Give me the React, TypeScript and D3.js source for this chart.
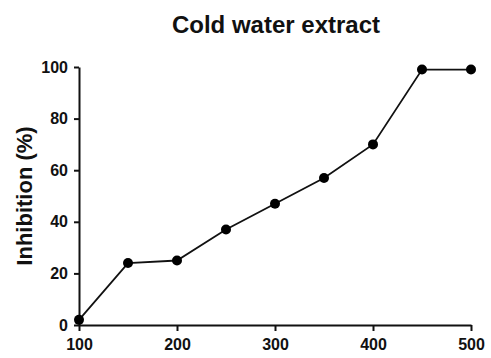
import { useEffect, useRef } from 'react';
import * as d3 from 'd3';

const concentrations = [100, 150, 200, 250, 300, 350, 400, 450, 500];
const inhibition = [2, 24, 25, 37, 47, 57, 70, 99, 99];
const xTicks = [100, 200, 300, 400, 500];
const yTicks = [0, 20, 40, 60, 80, 100];

export default function App() {
  const svgRef = useRef<SVGSVGElement>(null);

  useEffect(() => {
    if (!svgRef.current) return;
    const width = 491;
    const height = 358;
    const margin = { top: 67, right: 20, bottom: 33, left: 79 };

    const svg = d3.select(svgRef.current);
    svg.selectAll('*').remove();
    svg.attr('width', width).attr('height', height);

    const x = d3.scaleLinear().domain([100, 500]).range([margin.left, 471]);
    const y = d3.scaleLinear().domain([0, 100]).range([height - margin.bottom, margin.top]);

    const font = '"Liberation Sans", Arial, sans-serif';

    // Title
    svg.append('text')
      .attr('x', 276)
      .attr('y', 33)
      .attr('text-anchor', 'middle')
      .attr('font-family', font)
      .attr('font-size', '24px')
      .attr('font-weight', '700')
      .attr('fill', '#111')
      .text('Cold water extract');

    // Y label
    svg.append('text')
      .attr('transform', `translate(32,${y(50)}) rotate(-90)`)
      .attr('text-anchor', 'middle')
      .attr('font-family', font)
      .attr('font-size', '22px')
      .attr('font-weight', '700')
      .attr('fill', '#111')
      .text('Inhibition (%)');

    // Axes
    const xAxis = svg.append('g')
      .attr('transform', `translate(0,${y(0)})`)
      .call(d3.axisBottom(x).tickValues(xTicks).tickSize(6).tickSizeOuter(0).tickFormat(d3.format('d')));
    const yAxis = svg.append('g')
      .attr('transform', `translate(${x(100)},0)`)
      .call(d3.axisLeft(y).tickValues(yTicks).tickSize(5).tickSizeOuter(0).tickFormat(d3.format('d')));

    [xAxis, yAxis].forEach(ax => {
      ax.select('.domain').attr('stroke', '#111').attr('stroke-width', 2);
      ax.selectAll('.tick line').attr('stroke', '#111').attr('stroke-width', 2);
      ax.selectAll('.tick text')
        .attr('fill', '#111')
        .attr('font-family', font)
        .attr('font-size', '16px')
        .attr('font-weight', '700');
    });
    xAxis.selectAll('.tick text').attr('y', 14);
    yAxis.selectAll('.tick text').attr('x', -11);

    const points = concentrations.map((c, i) => [c, inhibition[i]] as [number, number]);

    // Line
    svg.append('path')
      .datum(points)
      .attr('fill', 'none')
      .attr('stroke', '#111')
      .attr('stroke-width', 1.8)
      .attr('d', d3.line<[number, number]>().x(d => x(d[0])).y(d => y(d[1])));

    // Points
    svg.selectAll('.pt')
      .data(points)
      .join('circle')
      .attr('class', 'pt')
      .attr('cx', d => x(d[0]))
      .attr('cy', d => y(d[1]))
      .attr('r', 5)
      .attr('fill', '#000');
  }, []);

  return (
    <div style={{ position: 'fixed', left: 0, top: 0, background: '#fff' }}>
      <svg ref={svgRef} style={{ display: 'block' }} />
    </div>
  );
}
